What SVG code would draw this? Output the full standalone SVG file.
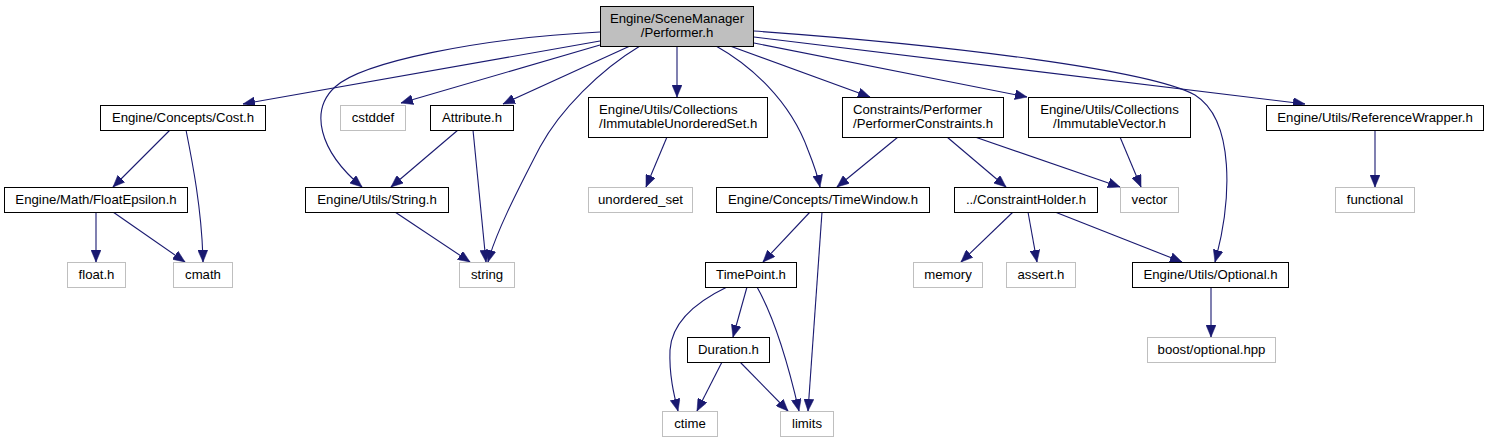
<svg xmlns="http://www.w3.org/2000/svg" width="1488" height="443" viewBox="0 0 1488 443">
<style>
  .n rect { fill: #ffffff; stroke: #000000; stroke-width: 1; }
  .n.g rect { stroke: #bfbfbf; }
  .n.root rect { fill: #bfbfbf; }
  .n text { font-family: "Liberation Sans", Arial, sans-serif; font-size: 13.2px; fill: #000000; text-anchor: middle; }
  .n text.l { text-anchor: start; }
  #edges path { fill: none; stroke: #191970; stroke-width: 1.1; marker-end: url(#ah); }
</style>
<defs>
  <marker id="ah" markerUnits="userSpaceOnUse" markerWidth="13" markerHeight="10" refX="12" refY="5" orient="auto">
    <path d="M0,0 L12,5 L0,10 z" fill="#191970" stroke="#191970" stroke-width="0.5"/>
  </marker>
</defs>
<rect width="1488" height="443" fill="#ffffff"/>
<g id="edges">
  <path d="M600,41 L243,104"/>
  <path d="M600,32 C480,38 362,62 335,87 C310,110 318,150 362,187"/>
  <path d="M600,45 L401,103"/>
  <path d="M630,46 L503,104"/>
  <path d="M640,46 C600,70 560,110 540,147 C515,195 495,235 488,262"/>
  <path d="M677,46 L677,97"/>
  <path d="M716,46 C750,65 790,100 808,150 C814,165 818,177 820,187"/>
  <path d="M730,46 L870,97"/>
  <path d="M754,43 L1027,97"/>
  <path d="M754,37 L1305,104"/>
  <path d="M754,31 C950,45 1150,70 1195,95 C1235,120 1232,200 1215,262"/>
  <path d="M170,130 L113,187"/>
  <path d="M186,130 C192,160 202,210 203,262"/>
  <path d="M96,212 L96,262"/>
  <path d="M113,212 L185,262"/>
  <path d="M458,130 L391,187"/>
  <path d="M473,130 L486,262"/>
  <path d="M395,212 L470,262"/>
  <path d="M667,137 L646,187"/>
  <path d="M898,137 L837,187"/>
  <path d="M947,137 L1006,187"/>
  <path d="M975,137 L1120,187"/>
  <path d="M1120,137 L1141,187"/>
  <path d="M1375,130 L1375,187"/>
  <path d="M810,212 L763,262"/>
  <path d="M822,212 L808,411"/>
  <path d="M1013,212 L961,262"/>
  <path d="M1028,212 L1037,262"/>
  <path d="M1055,212 L1182,262"/>
  <path d="M1211,287 L1211,337"/>
  <path d="M727,287 C700,300 672,320 670,350 C669,375 674,395 678,411"/>
  <path d="M747,287 L733,337"/>
  <path d="M757,287 C770,310 785,350 799,411"/>
  <path d="M722,362 L697,411"/>
  <path d="M740,362 L788,411"/>
</g>
<g id="root" class="n root"><rect x="600.5" y="6.5" width="153" height="40"/><text x="677" y="23">Engine/SceneManager</text><text x="677" y="37">/Performer.h</text></g>
<g id="cost" class="n"><rect x="100.5" y="105.5" width="165" height="25"/><text x="183" y="122">Engine/Concepts/Cost.h</text></g>
<g id="cstddef" class="n g"><rect x="340.5" y="105.5" width="65" height="25"/><text x="373" y="122">cstddef</text></g>
<g id="attribute" class="n"><rect x="430.5" y="105.5" width="83" height="25"/><text x="472" y="122">Attribute.h</text></g>
<g id="ius" class="n"><rect x="588.5" y="97.5" width="179" height="40"/><text class="l" x="599" y="114">Engine/Utils/Collections</text><text class="l" x="599" y="128">/ImmutableUnorderedSet.h</text></g>
<g id="pc" class="n"><rect x="842.5" y="97.5" width="161" height="40"/><text class="l" x="853" y="114">Constraints/Performer</text><text class="l" x="853" y="128">/PerformerConstraints.h</text></g>
<g id="iv" class="n"><rect x="1028.5" y="97.5" width="162" height="40"/><text x="1109.5" y="114">Engine/Utils/Collections</text><text x="1109.5" y="128">/ImmutableVector.h</text></g>
<g id="rw" class="n"><rect x="1266.5" y="105.5" width="217" height="25"/><text x="1375" y="122">Engine/Utils/ReferenceWrapper.h</text></g>
<g id="fe" class="n"><rect x="4.5" y="187.5" width="183" height="25"/><text x="96" y="204">Engine/Math/FloatEpsilon.h</text></g>
<g id="stringh" class="n"><rect x="305.5" y="187.5" width="143" height="25"/><text x="377" y="204">Engine/Utils/String.h</text></g>
<g id="uset" class="n g"><rect x="588.5" y="187.5" width="104" height="25"/><text x="640.5" y="204">unordered_set</text></g>
<g id="tw" class="n"><rect x="716.5" y="187.5" width="213" height="25"/><text x="823" y="204">Engine/Concepts/TimeWindow.h</text></g>
<g id="ch" class="n"><rect x="954.5" y="187.5" width="143" height="25"/><text x="1026" y="204">../ConstraintHolder.h</text></g>
<g id="vector" class="n g"><rect x="1120.5" y="187.5" width="58" height="25"/><text x="1149.5" y="204">vector</text></g>
<g id="functional" class="n g"><rect x="1335.5" y="187.5" width="79" height="25"/><text x="1375" y="204">functional</text></g>
<g id="floath" class="n g"><rect x="67.5" y="262.5" width="58" height="25"/><text x="96.5" y="279">float.h</text></g>
<g id="cmath" class="n g"><rect x="173.5" y="262.5" width="59" height="25"/><text x="203" y="279">cmath</text></g>
<g id="string" class="n g"><rect x="459.5" y="262.5" width="55" height="25"/><text x="487" y="279">string</text></g>
<g id="timepoint" class="n"><rect x="705.5" y="262.5" width="91" height="25"/><text x="751" y="279">TimePoint.h</text></g>
<g id="memory" class="n g"><rect x="913.5" y="262.5" width="69" height="25"/><text x="948" y="279">memory</text></g>
<g id="assert" class="n g"><rect x="1006.5" y="262.5" width="69" height="25"/><text x="1041" y="279">assert.h</text></g>
<g id="optional" class="n"><rect x="1132.5" y="262.5" width="156" height="25"/><text x="1210.5" y="279">Engine/Utils/Optional.h</text></g>
<g id="duration" class="n"><rect x="687.5" y="337.5" width="82" height="25"/><text x="728.5" y="354">Duration.h</text></g>
<g id="boost" class="n g"><rect x="1147.5" y="337.5" width="128" height="25"/><text x="1211.5" y="354">boost/optional.hpp</text></g>
<g id="ctime" class="n g"><rect x="662.5" y="411.5" width="55" height="25"/><text x="690" y="428">ctime</text></g>
<g id="limits" class="n g"><rect x="780.5" y="411.5" width="53" height="25"/><text x="807" y="428">limits</text></g>
</svg>
